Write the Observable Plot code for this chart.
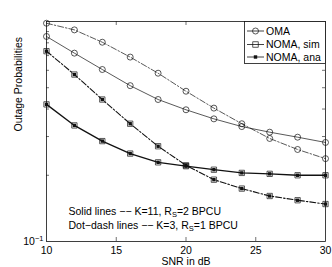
<!DOCTYPE html>
<html><head><meta charset="utf-8">
<script src="https://cdn.jsdelivr.net/npm/d3@7"></script>
<script src="https://cdn.jsdelivr.net/npm/@observablehq/plot@0.6"></script>
<style>
body{margin:0;background:#fff;}
#wrap{position:relative;width:332px;height:267px;font-family:"Liberation Sans",Arial,sans-serif;}
#legend{position:absolute;left:244px;top:21px;}
</style></head><body><div id="wrap"></div>
<script>
const snr = [10,12,14,16,18,20,22,24,26,28,30];
const omaK11 = [0.855,0.718,0.605,0.511,0.442,0.397,0.361,0.333,0.314,0.298,0.282];
const omaK3  = [0.982,0.916,0.805,0.689,0.582,0.482,0.404,0.343,0.294,0.262,0.238];
const nomaK11 = [0.420,0.337,0.286,0.251,0.229,0.220,0.212,0.205,0.203,0.200,0.200];
const nomaK3  = [0.733,0.574,0.442,0.343,0.271,0.222,0.191,0.174,0.161,0.154,0.148];
const xTicks = [10,15,20,25,30];
const xInnerTicks = [15,20,25];
const yLabelTicks = [0.1];
const yMinorTicks = [0.2,0.3,0.4,0.5,0.6,0.7,0.8,0.9];
const legendLabels = ["OMA","NOMA, sim","NOMA, ana"];
const notes = ["Solid lines \u2212\u2212 K=11, R_S=2 BPCU","Dot\u2212dash lines \u2212\u2212 K=3, R_S=1 BPCU"];
const xLabel = "SNR in dB";
const yLabel = "Outage Probabilities";

const mk = (vals) => snr.map((s,i)=>({snr:s, p:vals[i]}));
const dOmaK11 = mk(omaK11), dOmaK3 = mk(omaK3), dNomaK11 = mk(nomaK11), dNomaK3 = mk(nomaK3);
const dash = "6,2,1.5,2";
const ink = "#111";

const chart = Plot.plot({
  width: 332, height: 267,
  marginLeft: 46, marginRight: 7, marginTop: 21, marginBottom: 26,
  style: {fontFamily: "'Liberation Sans', Arial, sans-serif", fontSize: "10px", background: "#fff", color: "#000"},
  x: {domain: [10,30]},
  y: {type: "log", domain: [0.1,1]},
  marks: [
    Plot.frame({stroke: ink, strokeWidth: 0.8}),
    Plot.tickX(xInnerTicks, {insetTop: 216, stroke: ink, strokeWidth: 0.6}),
    Plot.tickX(xInnerTicks, {insetBottom: 216, stroke: ink, strokeWidth: 0.6}),
    Plot.tickY(yMinorTicks, {insetRight: 276, stroke: ink, strokeWidth: 0.6}),
    Plot.tickY(yMinorTicks, {insetLeft: 276, stroke: ink, strokeWidth: 0.6}),
    Plot.axisX(xTicks, {tickSize: 0, tickPadding: 5, label: null, fontSize: 10.5}),
    Plot.axisY(yLabelTicks, {tickSize: 0, tickPadding: 3, label: null, tickFormat: () => "10^{\u22121}", fontSize: 10.5}),
    Plot.text([xLabel], {frameAnchor: "bottom", dy: 20, lineAnchor: "middle", fontSize: 10.5}),
    Plot.text([yLabel], {frameAnchor: "left", dx: -28, rotate: -90, lineAnchor: "middle", fontSize: 10.5}),
    // lines
    Plot.line(dOmaK11, {x: "snr", y: "p", stroke: ink, strokeWidth: 0.7}),
    Plot.line(dOmaK3, {x: "snr", y: "p", stroke: ink, strokeWidth: 0.7, strokeDasharray: dash}),
    Plot.line(dNomaK11, {x: "snr", y: "p", stroke: ink, strokeWidth: 1.3}),
    Plot.line(dNomaK3, {x: "snr", y: "p", stroke: ink, strokeWidth: 1.1, strokeDasharray: dash}),
    // markers
    Plot.dot(dOmaK11, {x: "snr", y: "p", r: 3, stroke: ink, strokeWidth: 0.7, fill: "none"}),
    Plot.dot(dOmaK3, {x: "snr", y: "p", r: 3, stroke: ink, strokeWidth: 0.7, fill: "none"}),
    Plot.dot(dNomaK11, {x: "snr", y: "p", symbol: "square", r: 3, stroke: ink, strokeWidth: 0.7, fill: "none"}),
    Plot.dot(dNomaK3, {x: "snr", y: "p", symbol: "square", r: 3, stroke: ink, strokeWidth: 0.7, fill: "none"}),
    Plot.dot(dNomaK11, {x: "snr", y: "p", symbol: "square", r: 1.9, fill: ink}),
    Plot.dot(dNomaK3, {x: "snr", y: "p", symbol: "square", r: 1.9, fill: ink}),
    // notes
    Plot.text([notes[0]], {frameAnchor: "bottom-left", dx: 22, dy: -30, textAnchor: "start", lineAnchor: "middle", fontSize: 10.5}),
    Plot.text([notes[1]], {frameAnchor: "bottom-left", dx: 22, dy: -16, textAnchor: "start", lineAnchor: "middle", fontSize: 10.5})
  ]
});

function richify(root){
  root.querySelectorAll("text").forEach(t => {
    if (t.querySelector("tspan")) return;
    const s = t.textContent;
    if (!/[_^]/.test(s)) return;
    const parts = s.split(/([_^](?:\{[^}]*\}|.))/).filter(x => x !== "");
    while (t.firstChild) t.removeChild(t.firstChild);
    let shift = 0;
    parts.forEach(p => {
      const ts = document.createElementNS("http://www.w3.org/2000/svg", "tspan");
      let target = 0, txt = p, small = false;
      if (p[0] === "_" || p[0] === "^") {
        txt = p.slice(1).replace(/^\{|\}$/g, "");
        target = p[0] === "_" ? 2.5 : -4;
        small = true;
      }
      const dy = target - shift;
      if (dy) ts.setAttribute("dy", dy);
      shift = target;
      if (small) ts.setAttribute("font-size", "7.5");
      ts.textContent = txt;
      t.appendChild(ts);
    });
  });
}
richify(chart);

const wrap = document.getElementById("wrap");
wrap.appendChild(chart);

// legend
const lg = d3.select(wrap).append("div").attr("id","legend")
  .append("svg").attr("width", 82).attr("height", 43)
  .style("font-family", "'Liberation Sans', Arial, sans-serif").style("font-size", "10.5px");
lg.append("rect").attr("x",0.5).attr("y",0.5).attr("width",81).attr("height",42)
  .attr("fill","#fff").attr("stroke",ink).attr("stroke-width",0.8);
const rowY = [10, 23.5, 36];
legendLabels.forEach((lab,i) => {
  const y = rowY[i];
  lg.append("line").attr("x1",3).attr("x2",20).attr("y1",y).attr("y2",y).attr("stroke",ink).attr("stroke-width",0.8);
  if (i === 0) lg.append("circle").attr("cx",11.5).attr("cy",y).attr("r",3).attr("fill","none").attr("stroke",ink).attr("stroke-width",0.7);
  if (i === 1) lg.append("rect").attr("x",8.8).attr("y",y-2.7).attr("width",5.4).attr("height",5.4).attr("fill","none").attr("stroke",ink).attr("stroke-width",0.7);
  if (i === 2) lg.append("rect").attr("x",9.8).attr("y",y-1.7).attr("width",3.4).attr("height",3.4).attr("fill",ink);
  lg.append("text").attr("x",22).attr("y",y).attr("dy","0.35em").attr("fill","#000").text(lab);
});
</script>
</body></html>
